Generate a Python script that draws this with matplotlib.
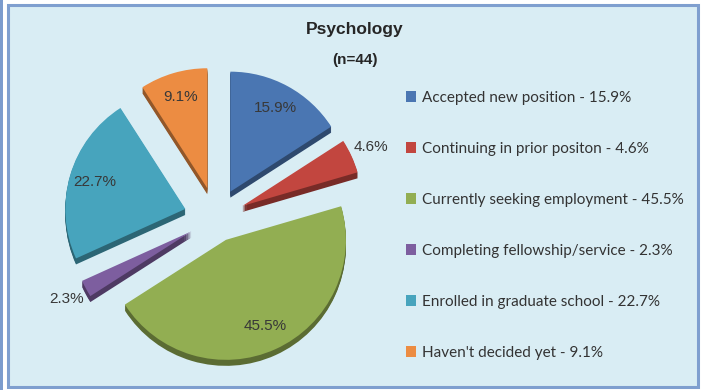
import matplotlib
matplotlib.use("Agg")
import matplotlib.pyplot as plt
from matplotlib.patches import Rectangle
import matplotlib.colors as mcolors
import numpy as np

# outcome shares for psychology graduates
categories = ["Accepted new position", "Continuing in prior positon",
              "Currently seeking employment", "Completing fellowship/service",
              "Enrolled in graduate school", "Haven't decided yet"]
shares = [15.9, 4.6, 45.5, 2.3, 22.7, 9.1]
colors = ["#4a76b2", "#c2463f", "#92ae52", "#7d5e9f", "#47a4bd", "#ec8c42"]
explode = [30, 29, 24, 28, 32, 31]

W, H = 701, 390
fig = plt.figure(figsize=(W / 100, H / 100), dpi=100)
fig.patch.set_facecolor("white")

# panel background and frame
fig.patches.append(Rectangle((0, 0), 2.5 / W, 1, transform=fig.transFigure,
                             facecolor="#7c9ccd", edgecolor="none", zorder=-2))
fig.patches.append(Rectangle((8 / W, 3 / H), 690 / W, 382 / H, transform=fig.transFigure,
                             facecolor="#d9edf4", edgecolor="#7f9fcf", linewidth=2.2,
                             zorder=-2))

ax = fig.add_axes([0, 0, 1, 1])
ax.set_facecolor("none")

cx, cy, R = 216, H - 218, 120
depth = 6

# side of the slices
dark = [tuple(c * 0.62 for c in mcolors.to_rgb(col)) for col in colors]
for d in range(depth, 0, -1):
    ax.pie(shares, colors=dark, explode=explode, startangle=90, counterclock=False,
           center=(cx, cy - d), radius=R, wedgeprops={"linewidth": 0, "zorder": 1})

wedges, _, pcts = ax.pie(shares, colors=colors, explode=explode, startangle=90,
                         counterclock=False, center=(cx, cy), radius=R,
                         autopct="%1.1f%%", pctdistance=0.79,
                         wedgeprops={"linewidth": 0, "zorder": 2},
                         textprops={"fontsize": 11, "color": "#383838",
                                    "family": "Liberation Sans", "zorder": 3})

# small slices get their label outside
for w, t, v in zip(wedges, pcts, shares):
    if v < 5:
        a = np.deg2rad((w.theta1 + w.theta2) / 2)
        x0, y0 = w.center
        t.set_position((x0 + 1.18 * R * np.cos(a), y0 + 1.18 * R * np.sin(a)))

ax.set_xlim(0, W)
ax.set_ylim(0, H)
ax.set_aspect("equal")
ax.axis("off")

fig.text(355 / W, 1 - 34 / H, "Psychology", ha="center", va="baseline",
         fontsize=12.5, fontweight="bold", color="#262626", family="Liberation Sans")
fig.text(355 / W, 1 - 64 / H, "(n=44)", ha="center", va="baseline",
         fontsize=11, fontweight="bold", color="#262626", family="Liberation Sans")

labels = [f"{c} - {v}%" for c, v in zip(categories, shares)]
leg = fig.legend(wedges, labels, loc="upper left", bbox_to_anchor=(406 / W, 1 - 91 / H),
                 frameon=False, borderpad=0, borderaxespad=0,
                 handlelength=0.68, handleheight=0.68, handletextpad=0.4,
                 labelspacing=2.42, prop={"family": "Lato", "size": 11})
for t in leg.get_texts():
    t.set_color("#333333")

fig.savefig("out.png", dpi=100)
